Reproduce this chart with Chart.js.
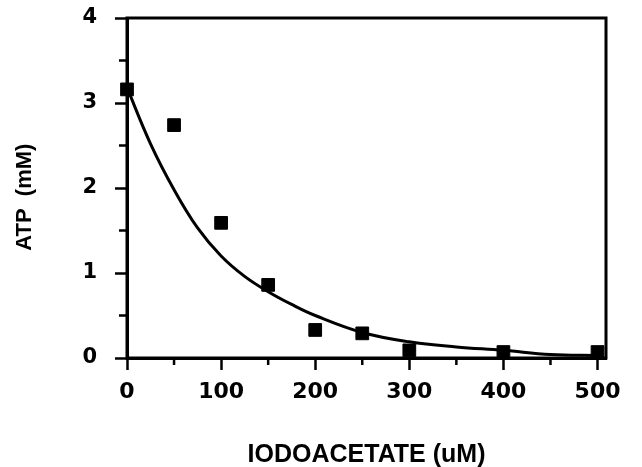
<!DOCTYPE html>
<html>
<head>
<meta charset="utf-8">
<script src="https://cdn.jsdelivr.net/npm/chart.js@4/dist/chart.umd.min.js"></script>
<style>
  html, body { margin: 0; padding: 0; background: #fff; }
</style>
</head>
<body>
<canvas id="atpChart" width="642" height="467"></canvas>
<script>
// measured points
const concUM = [0, 50, 100, 150, 200, 250, 300, 400, 500];
const atpMM = [3.16, 2.74, 1.59, 0.86, 0.33, 0.29, 0.09, 0.07, 0.07];

// fitted curve
const fitX = [0, 25, 50, 75, 100, 125, 150, 175, 200, 250, 300, 350, 400, 450, 500];
const fitY = [3.18, 2.52, 1.98, 1.53, 1.2, 0.96, 0.78, 0.63, 0.5, 0.3, 0.19, 0.13, 0.09, 0.04, 0.03];

// tick positions
const xTicks = [0, 100, 200, 300, 400, 500];
const yTicks = [0, 1, 2, 3, 4];
const xMinorTicks = [50, 150, 250, 350, 450];
const yMinorTicks = [0.5, 1.5, 2.5, 3.5];

// box around the plot + the short minor ticks
const framePlugin = {
  id: "frame",
  afterDraw(chart) {
    const { ctx, chartArea: a, scales } = chart;
    ctx.save();
    ctx.strokeStyle = "#000";
    ctx.lineWidth = 3;
    ctx.strokeRect(a.left, a.top, a.right - a.left, a.bottom - a.top);
    ctx.lineWidth = 2.5;
    ctx.beginPath();
    xMinorTicks.forEach((v) => {
      const px = scales.x.getPixelForValue(v);
      ctx.moveTo(px, a.bottom);
      ctx.lineTo(px, a.bottom + 7);
    });
    yMinorTicks.forEach((v) => {
      const py = scales.y.getPixelForValue(v);
      ctx.moveTo(a.left, py);
      ctx.lineTo(a.left - 8, py);
    });
    ctx.stroke();
    ctx.restore();
  },
};

const ctx = document.getElementById("atpChart");
new Chart(ctx, {
  data: {
    datasets: [
      {
        type: "line",
        data: fitX.map((x, i) => ({ x: x, y: fitY[i] })),
        borderColor: "#000",
        borderWidth: 3,
        pointRadius: 0,
        tension: 0.4,
        fill: false,
      },
      {
        type: "scatter",
        data: concUM.map((x, i) => ({ x: x, y: atpMM[i] })),
        backgroundColor: "#000",
        borderColor: "#000",
        pointStyle: "rect",
        pointRadius: 9,
        clip: false,
      },
    ],
  },
  options: {
    responsive: false,
    animation: false,
    devicePixelRatio: 1,
    layout: { padding: { top: 18, right: 36, left: 0, bottom: 0 } },
    plugins: { legend: { display: false }, tooltip: { enabled: false } },
    scales: {
      x: {
        type: "linear",
        min: 0,
        max: 509,
        afterBuildTicks: (s) => { s.ticks = xTicks.map((v) => ({ value: v })); },
        afterFit: (s) => { s.height = 109; },
        ticks: {
          padding: 9,
          color: "#000",
          font: { family: "DejaVu Sans", size: 22, weight: "bold" },
        },
        grid: { drawOnChartArea: false, tickLength: 12, tickWidth: 2.5, tickColor: "#000" },
        border: { color: "#000", width: 3 },
        title: {
          display: true,
          text: "IODOACETATE (uM)",
          color: "#000",
          font: { family: "Liberation Sans", size: 25, weight: "bold", lineHeight: 1 },
          padding: { top: 0, bottom: -1 },
        },
      },
      y: {
        type: "linear",
        min: 0,
        max: 4,
        afterBuildTicks: (s) => { s.ticks = yTicks.map((v) => ({ value: v })); },
        afterFit: (s) => {
          s.width = 127;
          s.paddingTop = 0;
          s.paddingBottom = 0;
        },
        ticks: {
          padding: 18,
          color: "#000",
          font: { family: "DejaVu Sans", size: 21, weight: "bold" },
        },
        grid: { drawOnChartArea: false, tickLength: 12, tickWidth: 2.5, tickColor: "#000" },
        border: { color: "#000", width: 3 },
        title: {
          display: true,
          text: "ATP  (mM)   ",
          color: "#000",
          font: { family: "Liberation Sans", size: 22, weight: "bold", lineHeight: 1 },
          padding: { top: 14, bottom: 0 },
        },
      },
    },
  },
  plugins: [framePlugin],
});
</script>
</body>
</html>
